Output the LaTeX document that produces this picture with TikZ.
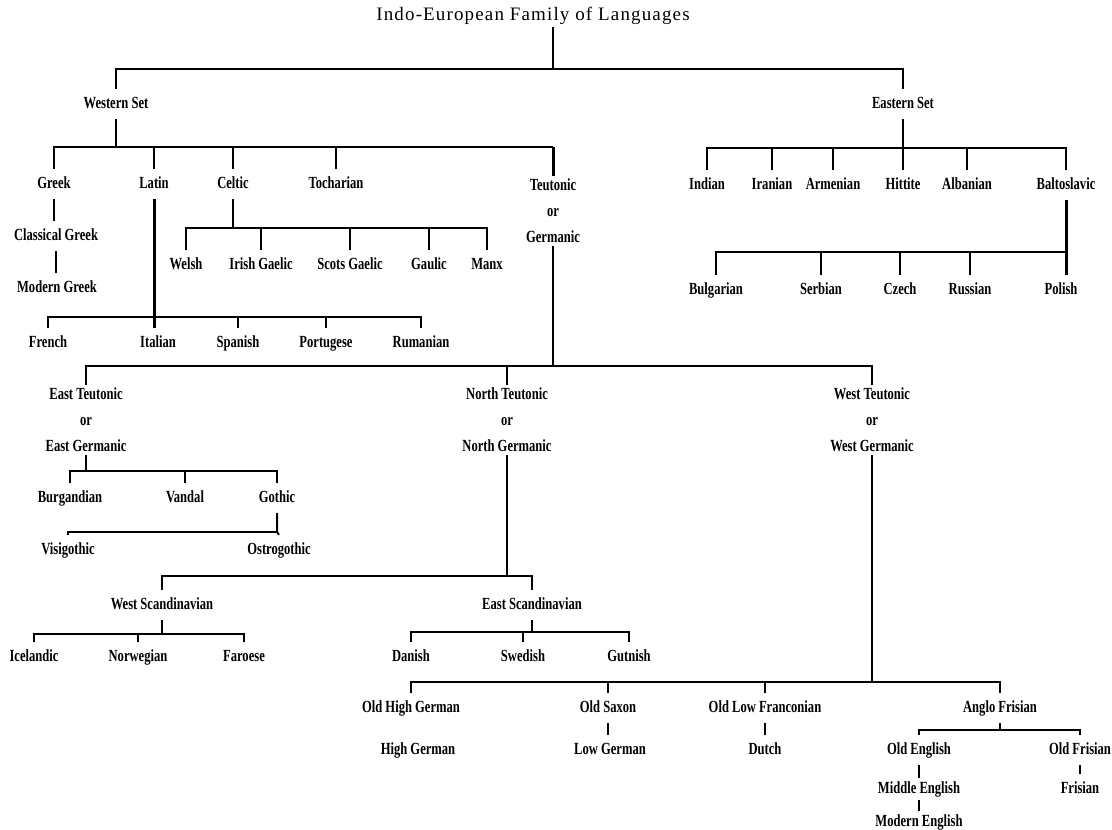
\documentclass[tikz,border=0pt]{standalone}
\usepackage{fontspec}
\setmainfont{Liberation Serif}[FakeStretch=0.74]
\newfontfamily\titlefont{Liberation Serif}[LetterSpace=6.0]
\tikzset{
  lang/.style={font=\fontsize{17}{26}\selectfont\bfseries, text height=12pt, text depth=4pt, inner xsep=1pt, inner ysep=7pt},
  grp/.style={font=\fontsize{17}{26}\selectfont\bfseries, align=center, inner xsep=1pt, inner ysep=3pt},
  link/.style={line width=2pt},
  heavy/.style={line width=3pt},
}
\begin{document}
\begin{tikzpicture}[x=1pt,y=-1pt]
\useasboundingbox (0,0) rectangle (1112,830);
\fill[white] (0,0) rectangle (1112,830);
% title
\node[font=\titlefont\fontsize{19}{22}\selectfont] (title) at (533,16) {Indo-European Family of Languages};
\node[lang] (wset) at (116,104) {Western Set};
\node[lang] (eset) at (903,104) {Eastern Set};
% western set
\node[lang] (greek) at (54,184) {Greek};
\node[lang] (latin) at (154,184) {Latin};
\node[lang] (celtic) at (233,184) {Celtic};
\node[lang] (toch) at (336,184) {Tocharian};
\node[grp] (teut) at (553,211) {Teutonic\\or\\Germanic};
\node[lang] (cgreek) at (56,236) {Classical Greek};
\node[lang] (mgreek) at (57,288) {Modern Greek};
\node[lang] (welsh) at (186,265) {Welsh};
\node[lang] (irish) at (261,265) {Irish Gaelic};
\node[lang] (scots) at (350,265) {Scots Gaelic};
\node[lang] (gaulic) at (429,265) {Gaulic};
\node[lang] (manx) at (487,265) {Manx};
\node[lang] (french) at (48,343) {French};
\node[lang] (italian) at (158,343) {Italian};
\node[lang] (spanish) at (238,343) {Spanish};
\node[lang] (portug) at (326,343) {Portugese};
\node[lang] (ruman) at (421,343) {Rumanian};
% eastern set
\node[lang] (indian) at (707,185) {Indian};
\node[lang] (iranian) at (772,185) {Iranian};
\node[lang] (armen) at (833,185) {Armenian};
\node[lang] (hittite) at (903,185) {Hittite};
\node[lang] (alban) at (967,185) {Albanian};
\node[lang] (balto) at (1066,185) {Baltoslavic};
\node[lang] (bulg) at (716,290) {Bulgarian};
\node[lang] (serb) at (821,290) {Serbian};
\node[lang] (czech) at (900,290) {Czech};
\node[lang] (russ) at (970,290) {Russian};
\node[lang] (polish) at (1061,290) {Polish};
% teutonic
\node[grp] (eteut) at (86,420) {East Teutonic\\or\\East Germanic};
\node[grp] (nteut) at (507,420) {North Teutonic\\or\\North Germanic};
\node[grp] (wteut) at (872,420) {West Teutonic\\or\\West Germanic};
\node[lang] (burg) at (70,498) {Burgandian};
\node[lang] (vandal) at (185,498) {Vandal};
\node[lang] (gothic) at (277,498) {Gothic};
\node[lang] (visig) at (68,550) {Visigothic};
\node[lang] (ostro) at (279,550) {Ostrogothic};
\node[lang] (wscand) at (162,605) {West Scandinavian};
\node[lang] (escand) at (532,605) {East Scandinavian};
\node[lang] (iceland) at (34,657) {Icelandic};
\node[lang] (norw) at (138,657) {Norwegian};
\node[lang] (faroese) at (244,657) {Faroese};
\node[lang] (danish) at (411,657) {Danish};
\node[lang] (swedish) at (523,657) {Swedish};
\node[lang] (gutnish) at (629,657) {Gutnish};
\node[lang] (ohg) at (411,708) {Old High German};
\node[lang] (osax) at (608,708) {Old Saxon};
\node[lang] (olf) at (765,708) {Old Low Franconian};
\node[lang] (anglo) at (1000,708) {Anglo Frisian};
\node[lang] (hg) at (418,750) {High German};
\node[lang] (lg) at (610,750) {Low German};
\node[lang] (dutch) at (765,750) {Dutch};
\node[lang] (oeng) at (919,750) {Old English};
\node[lang] (ofris) at (1080,750) {Old Frisian};
\node[lang, inner ysep=3pt] (meng) at (919,789) {Middle English};
\node[lang] (fris) at (1080,789) {Frisian};
\node[lang, inner ysep=3pt] (modeng) at (919,822) {Modern English};

% bar levels
\coordinate (tstem) at (553,27);
\coordinate (topbar) at (0,69);
\coordinate (wbar) at (0,147);
\coordinate (ebar) at (0,148);
\coordinate (cbar) at (0,228);
\coordinate (bbar) at (0,252);
\coordinate (rbar) at (0,317);
\coordinate (tbar) at (0,366);
\coordinate (egbar) at (0,471);
\coordinate (gbar) at (0,532);
\coordinate (nbar) at (0,576);
\coordinate (esbar) at (0,632);
\coordinate (wsbar) at (0,634);
\coordinate (wgbar) at (0,682);
\coordinate (abar) at (0,730);

% top
\draw[link] (tstem) -- (tstem |- topbar);
\draw[link] (wset.north) -- (wset.north |- topbar) -- (eset.north |- topbar) -- (eset.north);
% western set
\draw[link] (wset.south) -- (wset.south |- wbar);
\draw[link] (greek.north) -- (greek.north |- wbar) -- (teut.north |- wbar);
\draw[heavy] (teut.north |- wbar) -- (teut.north);
\foreach \n in {latin,celtic,toch}
  \draw[link] (\n.north) -- (\n.north |- wbar);
\draw[link] (greek.south) -- (greek.south |- cgreek.north);
\draw[link] (cgreek.south) -- (cgreek.south |- mgreek.north);
\draw[link] (celtic.south) -- (celtic.south |- cbar);
\draw[link] (welsh.north) -- (welsh.north |- cbar) -- (manx.north |- cbar) -- (manx.north);
\foreach \n in {irish,scots,gaulic}
  \draw[link] (\n.north) -- (\n.north |- cbar);
\draw[heavy] (latin.south) -- (latin.south |- italian.north);
\draw[link] (french.north) -- (french.north |- rbar) -- (ruman.north |- rbar) -- (ruman.north);
\foreach \n in {spanish,portug}
  \draw[link] (\n.north) -- (\n.north |- rbar);
% eastern set
\draw[link] (eset.south) -- (eset.south |- ebar);
\draw[link] (indian.north) -- (indian.north |- ebar) -- (balto.north |- ebar) -- (balto.north);
\foreach \n in {iranian,armen,hittite,alban}
  \draw[link] (\n.north) -- (\n.north |- ebar);
\draw[heavy] (balto.south) -- (balto.south |- polish.north);
\draw[link] (bulg.north) -- (bulg.north |- bbar) -- (balto.south |- bbar);
\foreach \n in {serb,czech,russ}
  \draw[link] (\n.north) -- (\n.north |- bbar);
% teutonic
\draw[link] (teut.south) -- (teut.south |- tbar);
\draw[link] (eteut.north) -- (eteut.north |- tbar) -- (wteut.north |- tbar) -- (wteut.north);
\draw[link] (nteut.north) -- (nteut.north |- tbar);
% east teutonic
\draw[link] (eteut.south) -- (eteut.south |- egbar);
\draw[link] (burg.north) -- (burg.north |- egbar) -- (gothic.north |- egbar) -- (gothic.north);
\draw[link] (vandal.north) -- (vandal.north |- egbar);
\draw[link] (gothic.south) -- (gothic.south |- gbar) -- (ostro.north);
\draw[link] (visig.north) -- (visig.north |- gbar) -- (gothic.south |- gbar);
% north teutonic
\draw[link] (nteut.south) -- (nteut.south |- nbar);
\draw[link] (wscand.north) -- (wscand.north |- nbar) -- (escand.north |- nbar) -- (escand.north);
\draw[link] (wscand.south) -- (wscand.south |- wsbar);
\draw[link] (iceland.north) -- (iceland.north |- wsbar) -- (faroese.north |- wsbar) -- (faroese.north);
\draw[link] (norw.north) -- (norw.north |- wsbar);
\draw[link] (escand.south) -- (escand.south |- esbar);
\draw[link] (danish.north) -- (danish.north |- esbar) -- (gutnish.north |- esbar) -- (gutnish.north);
\draw[link] (swedish.north) -- (swedish.north |- esbar);
% west teutonic
\draw[link] (wteut.south) -- (wteut.south |- wgbar);
\draw[link] (ohg.north) -- (ohg.north |- wgbar) -- (anglo.north |- wgbar) -- (anglo.north);
\foreach \n in {osax,olf}
  \draw[link] (\n.north) -- (\n.north |- wgbar);
\draw[link] (osax.south) -- (osax.south |- lg.north);
\draw[link] (olf.south) -- (olf.south |- dutch.north);
\draw[link] (anglo.south) -- (anglo.south |- abar);
\draw[link] (oeng.north) -- (oeng.north |- abar) -- (ofris.north |- abar) -- (ofris.north);
\draw[link] (oeng.south) -- (oeng.south |- meng.north);
\draw[link] (meng.south) -- (meng.south |- modeng.north);
\draw[link] (ofris.south) -- (ofris.south |- fris.north);
\end{tikzpicture}
\end{document}
